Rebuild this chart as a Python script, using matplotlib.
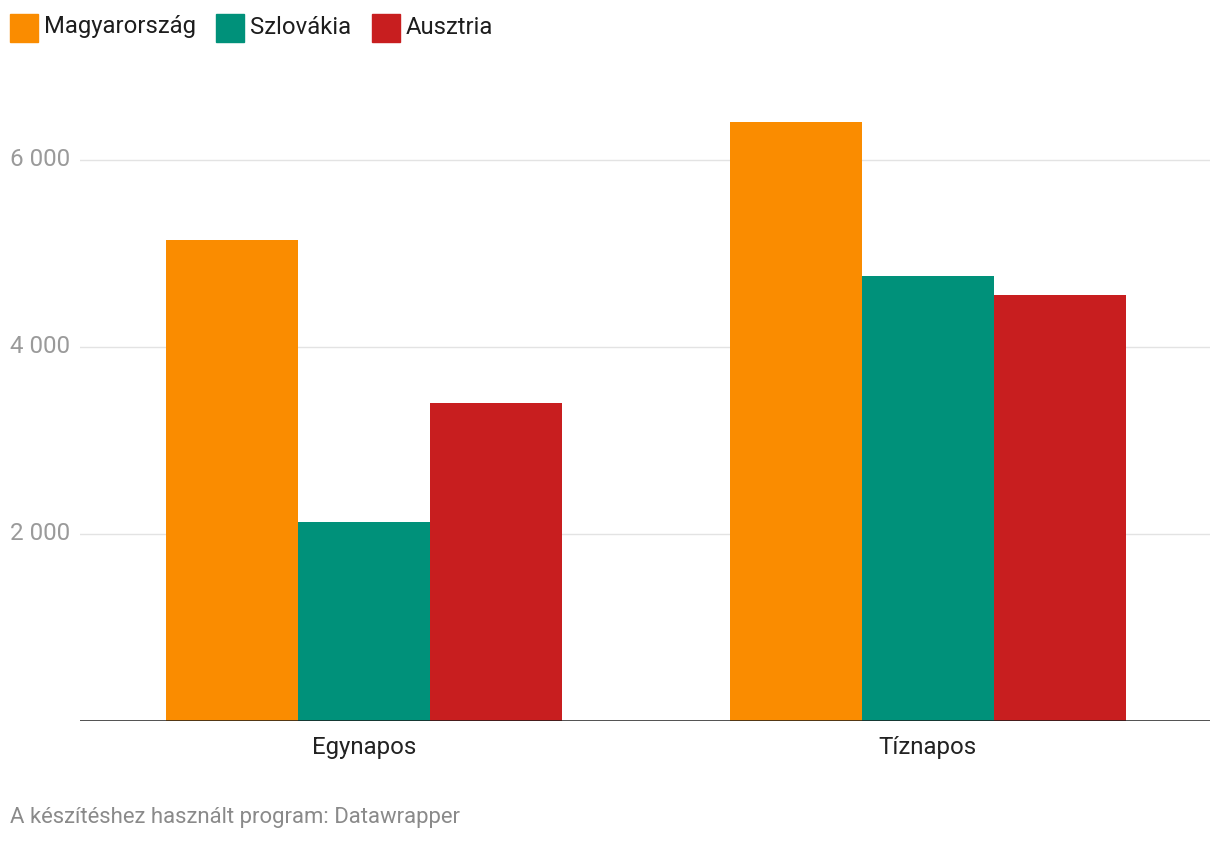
import numpy as np
import matplotlib.pyplot as plt
from matplotlib.patches import Rectangle
from matplotlib.transforms import blended_transform_factory

plt.rcParams['font.family'] = ['Roboto', 'DejaVu Sans']

# data
categories = ['Egynapos', 'Tíznapos']
series = ['Magyarország', 'Szlovákia', 'Ausztria']
magyar = [5140, 6400]
szlovakia = [2130, 4760]
ausztria = [3400, 4560]
colors = ['#fa8c00', '#00917a', '#c81e1f']
yticks = [2000, 4000, 6000]
ytick_labels = ['2 000', '4 000', '6 000']

W, H = 1220, 844
fig = plt.figure(figsize=(W / 100, H / 100), dpi=100)
ax = fig.add_axes([80 / W, (H - 721) / H, 1130 / W, (721 - 85) / H])

x = np.arange(len(categories))
width = 0.234
for i, (vals, col) in enumerate(zip([magyar, szlovakia, ausztria], colors)):
    ax.bar(x + (i - 1) * width, vals, width, color=col, zorder=2)

ax.set_xlim(-0.503, 1.5)
ax.set_ylim(0, 6800)

# grid lines
for t in yticks:
    ax.axhline(t, color='#e3e3e3', lw=1.0, zorder=1)
ax.axhline(0, color='#1d1d1d', lw=1.8, zorder=3)

for s in ax.spines.values():
    s.set_visible(False)
ax.set_yticks([])
ax.set_xticks(x)
ax.set_xticklabels(categories, fontsize=17.3, color='#222222')
ax.tick_params(axis='x', length=0, pad=11)

# y labels in the left margin
tr = blended_transform_factory(fig.transFigure, ax.transData)
for t, lab in zip(yticks, ytick_labels):
    fig.text(10 / W, t, lab, transform=tr, ha='left', va='center',
             fontsize=17.4, color='#9a9a9a')

# legend
leg_x = [10, 216, 372]
for lx, name, col in zip(leg_x, series, colors):
    fig.patches.append(Rectangle((lx / W, (H - 42) / H), 28 / W, 28 / H,
                                 transform=fig.transFigure, color=col))
    fig.text((lx + 34) / W, (H - 27) / H, name, ha='left', va='center',
             fontsize=17.2, color='#1d1d1d')

fig.text(10 / W, (H - 818) / H, 'A készítéshez használt program: Datawrapper',
         ha='left', va='center', fontsize=15.9, color='#8a8a8a')

fig.savefig('out.png', dpi=100)
